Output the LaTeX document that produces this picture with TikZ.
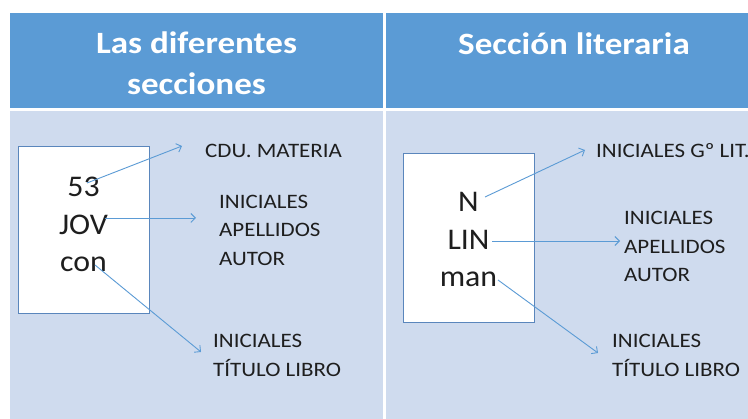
\documentclass[tikz,border=0pt]{standalone}
\usepackage{fontspec}
\setmainfont{Carlito}
\usetikzlibrary{arrows.meta}
\definecolor{hdr}{HTML}{5B9BD5}
\definecolor{bodyc}{HTML}{CFDBEE}
\definecolor{arr}{HTML}{5B9BD5}
\definecolor{cardb}{HTML}{5A86BC}
\definecolor{txt}{HTML}{1E1E1E}
\newcommand\myline[1]{\scalebox{1.12}[1]{#1}}
\begin{document}
\begin{tikzpicture}[x=1pt,y=-1pt,
  hdrtext/.style={anchor=base, inner sep=0, text=white, font=\fontsize{31}{41}\selectfont\bfseries},
  lbl/.style={anchor=base west, inner sep=0, text=txt, font=\fontsize{20.5}{28.5}\selectfont},
  boxtext/.style={anchor=base, inner sep=0, text=txt, font=\fontsize{30}{37.5}\selectfont},
  card/.style={draw=cardb, fill=white, line width=0.9pt, inner sep=0},
  conn/.style={draw=arr, line width=0.9pt, -{Straight Barb[length=4.5pt,width=9pt]}}
]
\path[use as bounding box, clip] (0,0) rectangle (748,419);
\fill[white] (0,0) rectangle (748,419);
\fill[hdr] (10,13) rectangle (748,108);
\fill[bodyc] (10,111) rectangle (748,419);
\fill[white] (383,13) rectangle (386,419);

% headers
\node[hdrtext] (h1a) at (196.5,54) {\scalebox{1.13}[1]{Las diferentes}};
\node[hdrtext] (h1b) at (196.5,95) {\scalebox{1.13}[1]{secciones}};
\node[hdrtext] (h2) at (574,55) {\scalebox{1.13}[1]{Sección literaria}};

% cards
\node[card, minimum width=131pt, minimum height=167pt] (card1) at (83.5,229.5) {};
\node[card, minimum width=131pt, minimum height=169pt] (card2) at (468.5,237.5) {};

\node[boxtext] (code1) at (83.5,197) {\scalebox{1.06}[1]{\vtop{\halign{\hfil#\hfil\cr 53\cr JOV\cr con\cr}}}};
\node[boxtext] (code2) at (468.5,212) {\scalebox{1.06}[1]{\vtop{\halign{\hfil#\hfil\cr N\cr LIN\cr man\cr}}}};

% labels left
\node[lbl] (l1a) at (205,158) {\myline{CDU. MATERIA}};
\node[lbl] (l1b) at (219,208.5) {\myline{\vtop{\hbox{INICIALES}\hbox{APELLIDOS}\hbox{AUTOR}}}};
\node[lbl] (l1c) at (213,348) {\myline{\vtop{\hbox{INICIALES}\hbox{TÍTULO LIBRO}}}};
% labels right
\node[lbl] (l2a) at (596,158) {\myline{INICIALES Gº LIT.}};
\node[lbl] (l2b) at (624,225) {\myline{\vtop{\hbox{INICIALES}\hbox{APELLIDOS}\hbox{AUTOR}}}};
\node[lbl] (l2c) at (612,348) {\myline{\vtop{\hbox{INICIALES}\hbox{TÍTULO LIBRO}}}};

% connector end points
\coordinate (s11) at (87,183);  \coordinate (e11) at (182,146);
\coordinate (s12) at (105,218); \coordinate (e12) at (196,218);
\coordinate (s13) at (95,265);  \coordinate (e13) at (201,352);
\coordinate (s21) at (485,197); \coordinate (e21) at (585,150);
\coordinate (s22) at (492,241); \coordinate (e22) at (620,241);
\coordinate (s23) at (498,280); \coordinate (e23) at (598,353);

\draw[conn] (s11) -- (e11);
\draw[conn] (s12) -- (e12);
\draw[conn] (s13) -- (e13);
\draw[conn] (s21) -- (e21);
\draw[conn] (s22) -- (e22);
\draw[conn] (s23) -- (e23);
\end{tikzpicture}
\end{document}
